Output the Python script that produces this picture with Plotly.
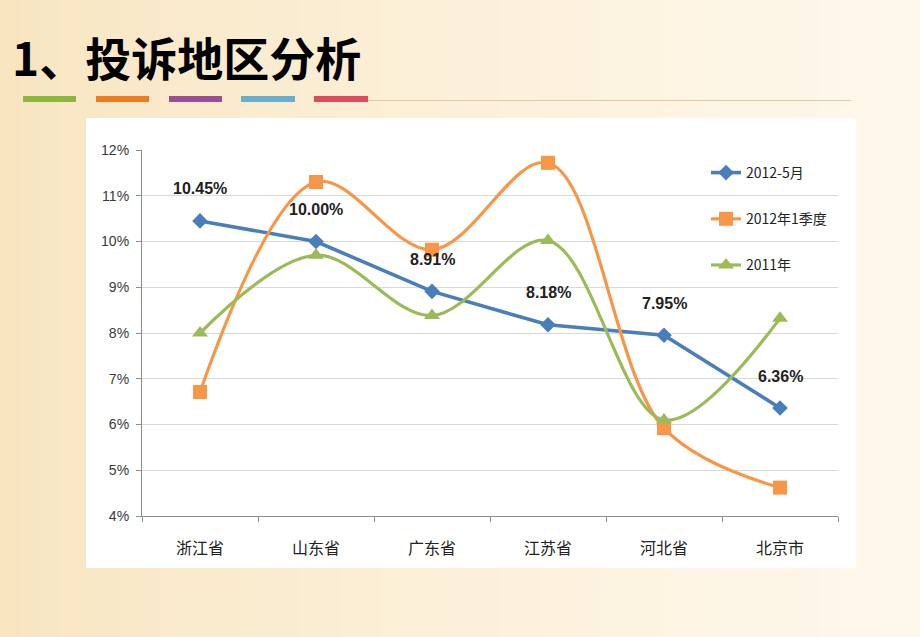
import plotly.graph_objects as go

W, H = 920, 637

categories = ["浙江省", "山东省", "广东省", "江苏省", "河北省", "北京市"]
may_2012 = [10.45, 10.00, 8.91, 8.18, 7.95, 6.36]
q1_2012 = [6.71, 11.30, 9.82, 11.72, 5.92, 4.62]
year_2011 = [8.00, 9.70, 8.38, 10.02, 6.10, 8.32]
series_names = ["2012-5月", "2012年1季度", "2011年"]
y_ticks = [4, 5, 6, 7, 8, 9, 10, 11, 12]
title_text = "1、投诉地区分析"

CJK = "Noto Sans CJK SC"


def px_x(x):
    return x / W


def px_y(y):
    return 1 - y / H


def mix(c1, c2, t):
    return "#%02x%02x%02x" % tuple(int(round(a + (b - a) * t)) for a, b in zip(c1, c2))


shapes = []
# background gradient (cream, fading to the right)
n = 46
left_c = (248, 229, 192)
right_c = (254, 248, 236)
for i in range(n):
    t = i / (n - 1)
    shapes.append(dict(type="rect", xref="paper", yref="paper", layer="below",
                       x0=i / n, x1=(i + 1) / n + 0.002, y0=-0.05, y1=1.05,
                       line=dict(width=0), fillcolor=mix(left_c, right_c, t ** 0.8)))

# white chart panel
shapes.append(dict(type="rect", xref="paper", yref="paper", layer="below",
                   x0=px_x(86), x1=px_x(856), y0=px_y(568), y1=px_y(118),
                   line=dict(width=0), fillcolor="#ffffff"))

# colored bars under title
bar_cols = ["#8DB83F", "#F07A1E", "#9A4E93", "#6BAECB", "#DF4A5F"]
bar_x = [(23, 76), (96, 149), (169, 222), (241, 295), (314, 368)]
for (a, b), c in zip(bar_x, bar_cols):
    shapes.append(dict(type="rect", xref="paper", yref="paper",
                       x0=px_x(a), x1=px_x(b), y0=px_y(102), y1=px_y(96),
                       line=dict(width=0), fillcolor=c))
shapes.append(dict(type="line", xref="paper", yref="paper",
                   x0=px_x(368), x1=px_x(851), y0=px_y(100.5), y1=px_y(100.5),
                   line=dict(color="#E8C79C", width=1.2)))

fig = go.Figure()
fig.add_trace(go.Scatter(
    x=categories, y=may_2012, name=series_names[0], mode="lines+markers",
    legendgroup="a",
    line=dict(color="#4A7EBB", width=3.6),
    marker=dict(symbol="diamond", size=12, color="#4A7EBB"),
    hoverinfo="skip"))
fig.add_trace(go.Scatter(
    x=categories, y=q1_2012, name=series_names[1], mode="lines+markers",
    legendgroup="b",
    line=dict(color="#F79646", width=3.2, shape="spline", smoothing=1.0),
    marker=dict(symbol="square", size=14, color="#F79646"),
    hoverinfo="skip"))
fig.add_trace(go.Scatter(
    x=categories, y=year_2011, name=series_names[2], mode="lines+markers",
    legendgroup="c",
    line=dict(color="#9BBB59", width=3.2, shape="spline", smoothing=1.0),
    marker=dict(symbol="triangle-up", size=14, color="#9BBB59"),
    hoverinfo="skip"))

annotations = []
for c, v in zip(categories, may_2012):
    annotations.append(dict(x=c, y=v, xref="x", yref="y",
                            text="<b>%.2f%%</b>" % v,
                            showarrow=False, yshift=32,
                            font=dict(family="Liberation Sans", size=16, color="#222222")))

annotations.append(dict(x=px_x(10), y=px_y(56), xref="paper", yref="paper",
                        xanchor="left", yanchor="middle", showarrow=False,
                        text="<b>" + title_text + "</b>",
                        font=dict(family=CJK, size=46, color="#000000")))

fig.update_layout(
    width=W, height=H, autosize=False,
    margin=dict(l=0, r=0, t=0, b=0, pad=0, autoexpand=False),
    paper_bgcolor="#fbf0dc",
    plot_bgcolor="#ffffff",
    shapes=shapes,
    annotations=annotations,
    showlegend=True,
    legend=dict(x=px_x(706), y=px_y(157), xanchor="left", yanchor="top",
                traceorder="grouped", tracegroupgap=25,
                bgcolor="rgba(0,0,0,0)",
                font=dict(family=CJK, size=14, color="#222222"),
                itemwidth=30),
    xaxis=dict(domain=[px_x(142), px_x(838)], range=[-0.5, 5.5],
               type="category", showgrid=False, showline=True,
               linecolor="#8c8c8c", linewidth=1.2,
               ticks="outside", ticklen=5, tickcolor="#8c8c8c",
               tickson="boundaries", ticklabelstandoff=18,
               tickfont=dict(family=CJK, size=16, color="#222222"),
               automargin=False, fixedrange=True),
    yaxis=dict(domain=[px_y(516), px_y(150)], range=[4, 12],
               tickvals=y_ticks, ticktext=["%d%%" % t for t in y_ticks],
               showgrid=True, gridcolor="#d9d9d9", gridwidth=1,
               showline=True, linecolor="#8c8c8c", linewidth=1.2,
               ticks="outside", ticklen=5, tickcolor="#8c8c8c",
               ticklabelstandoff=4,
               zeroline=False,
               tickfont=dict(family="Liberation Sans", size=14, color="#3a3a3a"),
               automargin=False, fixedrange=True),
)

fig.write_html("out.html", config=dict(displayModeBar=False),
               post_script="document.body.style.margin='0';document.body.style.overflow='hidden';")
